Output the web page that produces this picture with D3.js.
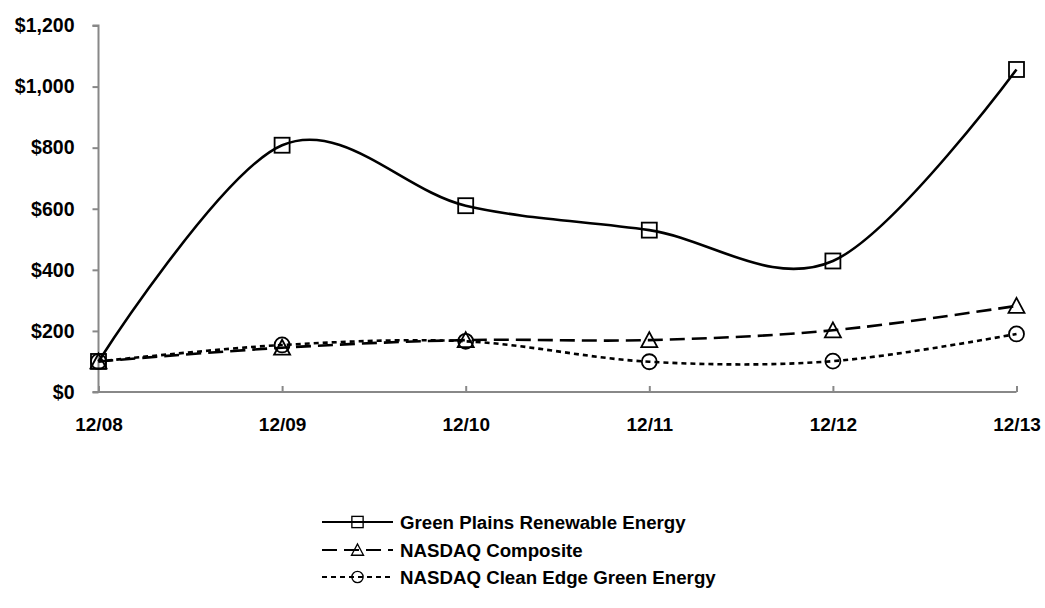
<!DOCTYPE html>
<html>
<head>
<meta charset="utf-8">
<script src="https://cdn.jsdelivr.net/npm/d3@7/dist/d3.min.js"></script>
<style>
  html, body { margin: 0; padding: 0; background: #fff; }
  text { font-family: "Liberation Sans", Arial, sans-serif; font-weight: bold; fill: #000; }
</style>
</head>
<body>
<svg id="chart" width="1045" height="608"></svg>
<script>
const categories = ["12/08", "12/09", "12/10", "12/11", "12/12", "12/13"];
const greenPlains = [100, 808, 610, 530, 429, 1056];
const nasdaqComposite = [100, 145, 170, 170, 202, 282];
const cleanEdge = [100, 154, 166, 99, 101, 190];
const yTicks = [0, 200, 400, 600, 800, 1000, 1200];
const seriesNames = ["Green Plains Renewable Energy", "NASDAQ Composite", "NASDAQ Clean Edge Green Energy"];

const series = [
  { name: seriesNames[0], values: greenPlains, marker: "square", dash: null },
  { name: seriesNames[1], values: nasdaqComposite, marker: "triangle", dash: "15,7" },
  { name: seriesNames[2], values: cleanEdge, marker: "circle", dash: "5,4" }
];

const svg = d3.select("#chart");
const x = d3.scalePoint().domain(categories).range([98.5, 1016.5]);
const y = d3.scaleLinear().domain([0, 1200]).range([392, 25.5]);
const axisColor = "#888888";
const fontFam = '"Liberation Sans", Arial, sans-serif';

// Y axis
const yAxis = svg.append("g").attr("transform", "translate(98.5,0)")
  .call(d3.axisLeft(y).tickValues(yTicks).tickSize(6).tickPadding(18)
    .tickFormat(d => "$" + d3.format(",")(d)));
yAxis.select(".domain").attr("stroke", axisColor).attr("stroke-width", 2).attr("d", `M-6,${y(1200)}H0V${y(0)}`);
yAxis.selectAll(".tick line").attr("stroke", axisColor).attr("stroke-width", 2);
yAxis.selectAll(".tick text").style("font-size", "19.5px").style("font-family", fontFam).style("font-weight", "bold").attr("fill", "#000");

// X axis
const xAxis = svg.append("g").attr("transform", `translate(0,${y(0)})`)
  .call(d3.axisBottom(x).tickSize(-6).tickPadding(26));
xAxis.select(".domain").attr("stroke", axisColor).attr("stroke-width", 2).attr("d", `M92.5,0H${x.range()[1]}`);
xAxis.selectAll(".tick line").attr("stroke", axisColor).attr("stroke-width", 2);
xAxis.selectAll(".tick text").style("font-size", "19px").style("font-family", fontFam).style("font-weight", "bold").attr("fill", "#000");

const line = d3.line()
  .x((d, i) => x(categories[i]))
  .y(d => y(d))
  .curve(d3.curveCardinal.tension(0));

function drawMarker(g, type, cx, cy) {
  if (type === "square") {
    g.append("rect").attr("x", cx - 7.5).attr("y", cy - 7.5).attr("width", 15).attr("height", 15)
      .attr("fill", "none").attr("stroke", "#000").attr("stroke-width", 1.8);
  } else if (type === "triangle") {
    g.append("path").attr("d", `M${cx},${cy - 8}L${cx + 8},${cy + 7}L${cx - 8},${cy + 7}Z`)
      .attr("fill", "none").attr("stroke", "#000").attr("stroke-width", 1.8);
  } else {
    g.append("circle").attr("cx", cx).attr("cy", cy).attr("r", 7.5)
      .attr("fill", "none").attr("stroke", "#000").attr("stroke-width", 1.8);
  }
}

series.forEach(s => {
  const g = svg.append("g");
  g.append("path").attr("d", line(s.values)).attr("fill", "none")
    .attr("stroke", "#000").attr("stroke-width", 2.6)
    .attr("stroke-dasharray", s.dash);
  s.values.forEach((v, i) => drawMarker(g, s.marker, x(categories[i]), y(v)));
});

// Legend
const legendY = [522, 550, 577];
series.forEach((s, i) => {
  const g = svg.append("g");
  g.append("line").attr("x1", 322).attr("x2", 393).attr("y1", legendY[i]).attr("y2", legendY[i])
    .attr("stroke", "#000").attr("stroke-width", 2).attr("stroke-dasharray", s.dash);
  const lg = g.append("g").attr("transform", `translate(${357.5},${legendY[i]}) scale(0.75) translate(${-357.5},${-legendY[i]})`);
  drawMarker(lg, s.marker, 357.5, legendY[i]);
  g.append("text").attr("x", 400).attr("y", legendY[i]).attr("dy", "0.35em")
    .style("font-size", "18.7px").text(s.name);
});
</script>
</body>
</html>
